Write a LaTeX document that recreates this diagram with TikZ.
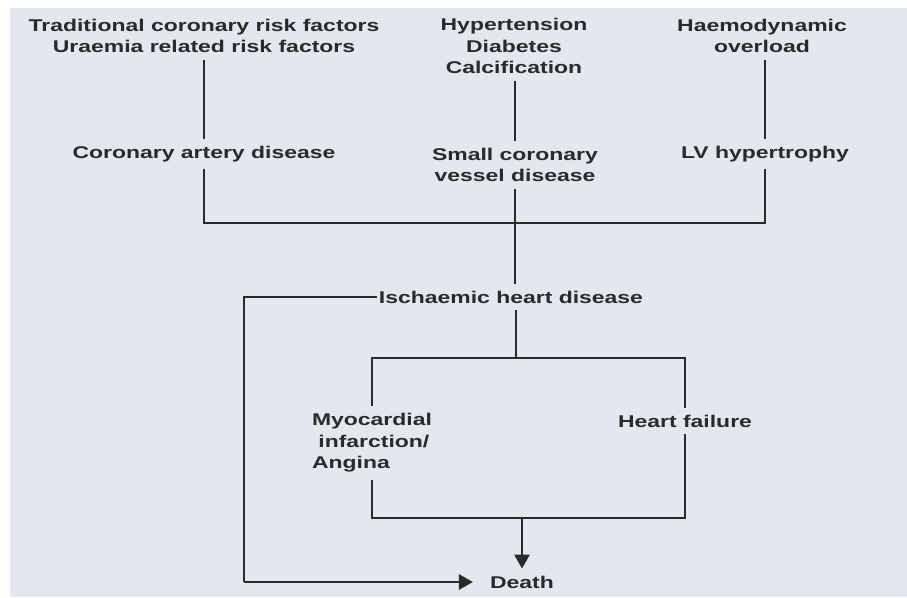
\documentclass[tikz,border=0pt]{standalone}
\usepackage{fontspec}
\setmainfont{Liberation Sans}[FakeStretch=1.35]
\usepackage{tikz}
\usetikzlibrary{arrows.meta}

\definecolor{paper}{HTML}{E4E6F0}
\definecolor{ink}{HTML}{2A2A2A}

\begin{document}
\begin{tikzpicture}[x=1pt,y=-1pt,
    lbl/.style={text=ink, align=center, inner xsep=2pt, inner ysep=7pt,
        font=\fontsize{17}{21.5}\selectfont\bfseries},
    link/.style={draw=ink, line width=2.8pt},
    tip/.style={-{Triangle[length=14pt,width=15pt]}}]
    \useasboundingbox (0,0) rectangle (907,597);
    \fill[white] (0,0) rectangle (907,597);
    \fill[paper] (10,8) rectangle (907,597);

    % causes
    \node[lbl] (trad) at (204,36) {Traditional coronary risk factors\\Uraemia related risk factors};
    \node[lbl] (hyp) at (514,46) {Hypertension\\Diabetes\\Calcification};
    \node[lbl] (haem) at (762,36) {Haemodynamic\\overload};

    % disease
    \node[lbl] (cad) at (204,154) {Coronary artery disease};
    \node[lbl] (scvd) at (515,165) {Small coronary\\vessel disease};
    \node[lbl] (lvh) at (765,154) {LV hypertrophy};
    \node[lbl] (ihd) at (511,297) {Ischaemic heart disease};

    % outcome
    \node[lbl, align=left] (mi) at (372,443) {Myocardial\\\ infarction/\\Angina};
    \node[lbl] (hf) at (685,421) {Heart failure};
    \node[lbl] (death) at (522,582) {Death};

    \coordinate (jtop) at (515,223);
    \coordinate (jmid) at (516,358);
    \coordinate (jbot) at (522,518);
    \coordinate (lcorner) at (244,297);
    \coordinate (dtip) at ([xshift=-15pt]death.west);

    \draw[link] (trad.south -| cad) -- (cad.north);
    \draw[link] (hyp.south -| scvd) -- (scvd.north);
    \draw[link] (haem.south -| lvh) -- (lvh.north);
    \draw[link] (cad.south) |- (jtop) -| (lvh.south);
    \draw[link] (scvd.south) -- (ihd.north -| scvd);

    \draw[link] (ihd.west) -- (lcorner) -- (lcorner |- dtip);
    \draw[link, tip] (lcorner |- dtip) -- (dtip);
    \draw[link] (ihd.south -| jmid) -- (jmid);
    \draw[link] (mi.north) |- (jmid) -| (hf.north);
    \draw[link] (mi.south) |- (jbot) -| (hf.south);
    \draw[link, tip] (jbot) -- (death.north);
\end{tikzpicture}
\end{document}
